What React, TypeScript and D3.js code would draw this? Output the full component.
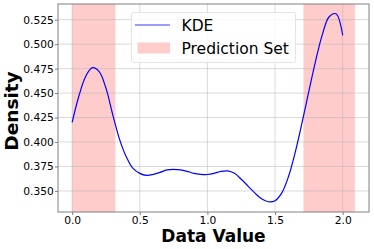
import React, { useEffect, useRef } from "react";
import * as d3 from "d3";

// KDE curve
const xs = [
  0.0, 0.05, 0.1, 0.15, 0.2, 0.25, 0.3, 0.35, 0.4, 0.45, 0.5, 0.55, 0.6, 0.65,
  0.7, 0.75, 0.8, 0.85, 0.9, 0.95, 1.0, 1.05, 1.1, 1.15, 1.2, 1.25, 1.3, 1.35,
  1.4, 1.45, 1.5, 1.55, 1.6, 1.65, 1.7, 1.75, 1.8, 1.85, 1.9, 1.95, 2.0,
];
const density = [
  0.42, 0.447, 0.467, 0.476, 0.472, 0.455, 0.428, 0.403, 0.385, 0.373, 0.368,
  0.366, 0.367, 0.369, 0.3715, 0.372, 0.3715, 0.37, 0.368, 0.367, 0.3668, 0.368,
  0.37, 0.3705, 0.368, 0.362, 0.355, 0.348, 0.342, 0.339, 0.34, 0.348, 0.365,
  0.39, 0.42, 0.452, 0.483, 0.51, 0.528, 0.531, 0.509,
];
// prediction set intervals
const bands = [
  [0.0, 0.32],
  [1.71, 2.09],
];
const xTicks = [0.0, 0.5, 1.0, 1.5, 2.0];
const yTicks = [0.35, 0.375, 0.4, 0.425, 0.45, 0.475, 0.5, 0.525];

export default function App() {
  const ref = useRef<SVGSVGElement>(null);

  useEffect(() => {
    const svg = d3.select(ref.current);
    svg.selectAll("*").remove();

    const width = 374;
    const height = 249;
    const margin = { top: 4, right: 5, bottom: 37, left: 58 };
    const font = "DejaVu Sans";

    const x = d3
      .scaleLinear()
      .domain([-0.1045, 2.1945])
      .range([margin.left, width - margin.right]);
    const y = d3
      .scaleLinear()
      .domain([0.3285, 0.541])
      .range([height - margin.bottom, margin.top]);

    const plot = svg.append("g");

    plot
      .selectAll("rect.band")
      .data(bands)
      .enter()
      .append("rect")
      .attr("class", "band")
      .attr("x", (d) => x(d[0]))
      .attr("width", (d) => x(d[1]) - x(d[0]))
      .attr("y", margin.top)
      .attr("height", height - margin.bottom - margin.top)
      .attr("fill", "#ffcccc");

    // grid
    plot
      .selectAll("line.gx")
      .data(xTicks)
      .enter()
      .append("line")
      .attr("x1", (d) => x(d))
      .attr("x2", (d) => x(d))
      .attr("y1", margin.top)
      .attr("y2", height - margin.bottom)
      .attr("stroke", "#b0b0b0")
      .attr("stroke-opacity", 0.6)
      .attr("stroke-width", 0.8);
    plot
      .selectAll("line.gy")
      .data(yTicks)
      .enter()
      .append("line")
      .attr("x1", margin.left)
      .attr("x2", width - margin.right)
      .attr("y1", (d) => y(d))
      .attr("y2", (d) => y(d))
      .attr("stroke", "#b0b0b0")
      .attr("stroke-opacity", 0.6)
      .attr("stroke-width", 0.8);

    const line = d3
      .line<number>()
      .x((d, i) => x(xs[i]))
      .y((d) => y(d))
      .curve(d3.curveCatmullRom);

    plot
      .append("path")
      .datum(density)
      .attr("d", line)
      .attr("fill", "none")
      .attr("stroke", "blue")
      .attr("stroke-width", 1.2);

    // frame
    svg
      .append("rect")
      .attr("x", margin.left)
      .attr("y", margin.top)
      .attr("width", width - margin.right - margin.left)
      .attr("height", height - margin.bottom - margin.top)
      .attr("fill", "none")
      .attr("stroke", "#808080")
      .attr("stroke-width", 1);

    const xAxis = svg
      .append("g")
      .attr("transform", `translate(0,${height - margin.bottom})`)
      .call(
        d3
          .axisBottom(x)
          .tickValues(xTicks)
          .tickFormat(d3.format(".1f"))
          .tickSize(3)
          .tickPadding(1.2)
      );
    const yAxis = svg
      .append("g")
      .attr("transform", `translate(${margin.left},0)`)
      .call(
        d3
          .axisLeft(y)
          .tickValues(yTicks)
          .tickFormat(d3.format(".3f"))
          .tickSize(3)
          .tickPadding(1.2)
      );
    [xAxis, yAxis].forEach((g) => {
      g.select(".domain").remove();
      g.selectAll(".tick line").attr("stroke", "#808080");
      g.selectAll(".tick text")
        .attr("fill", "black")
        .style("font-family", font)
        .style("font-size", "10.7px");
    });

    svg
      .append("text")
      .attr("x", (margin.left + width - margin.right) / 2)
      .attr("y", 242)
      .attr("text-anchor", "middle")
      .style("font-family", font)
      .style("font-weight", "bold")
      .style("font-size", "17px")
      .text("Data Value");

    svg
      .append("text")
      .attr("transform", "translate(17.5,111) rotate(-90)")
      .attr("text-anchor", "middle")
      .style("font-family", font)
      .style("font-weight", "bold")
      .style("font-size", "18.5px")
      .text("Density");

    // legend
    const lg = svg.append("g");
    lg.append("rect")
      .attr("x", 131.5)
      .attr("y", 12.5)
      .attr("width", 164)
      .attr("height", 50)
      .attr("rx", 2)
      .attr("fill", "white")
      .attr("fill-opacity", 0.8)
      .attr("stroke", "#dddddd")
      .attr("stroke-width", 0.8);
    lg.append("line")
      .attr("x1", 135)
      .attr("x2", 170)
      .attr("y1", 25)
      .attr("y2", 25)
      .attr("stroke", "#7b7bff")
      .attr("stroke-width", 1.5);
    lg.append("rect")
      .attr("x", 137.5)
      .attr("y", 42.5)
      .attr("width", 32.5)
      .attr("height", 11)
      .attr("fill", "#ffcccc");
    lg.append("text")
      .attr("x", 181.5)
      .attr("y", 30.5)
      .style("font-family", font)
      .style("font-size", "15.5px")
      .text("KDE");
    lg.append("text")
      .attr("x", 181.5)
      .attr("y", 53.5)
      .style("font-family", font)
      .style("font-size", "15.5px")
      .text("Prediction Set");
  }, []);

  return (
    <svg
      ref={ref}
      width={374}
      height={249}
      style={{ position: "absolute", left: 0, top: 0, background: "white" }}
    />
  );
}
